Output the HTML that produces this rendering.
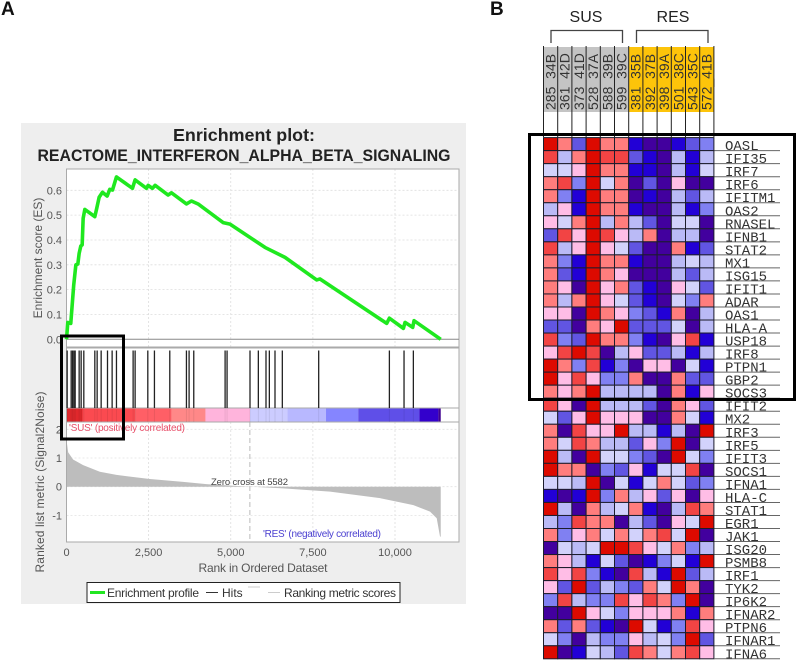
<!DOCTYPE html>
<html lang="en">
<head>
<meta charset="utf-8">
<title>Enrichment plot and heatmap</title>
<style>
html,body{margin:0;padding:0;background:#fff;width:798px;height:661px;overflow:hidden}
svg{display:block;font-family:"Liberation Sans",Arial,sans-serif}
</style>
</head>
<body>
<svg id="figure" width="798" height="661" viewBox="0 0 798 661" xmlns="http://www.w3.org/2000/svg">
  <text x="1" y="15" font-size="19" font-weight="bold" fill="#111">A</text>
  <text x="490" y="15" font-size="19" font-weight="bold" fill="#111">B</text>
  <rect x="21" y="123" width="445" height="481" fill="#eeeeee"/>
  <text x="244" y="141" text-anchor="middle" font-size="17.5" font-weight="bold" fill="#222" textLength="142" lengthAdjust="spacingAndGlyphs">Enrichment plot:</text>
  <text x="244" y="161" text-anchor="middle" font-size="17" font-weight="bold" fill="#222" textLength="413" lengthAdjust="spacingAndGlyphs">REACTOME_INTERFERON_ALPHA_BETA_SIGNALING</text>
  <rect x="66.5" y="169" width="393" height="373" fill="#fff"/>
  <g id="gsea"></g>
  <text transform="translate(42,258) rotate(-90)" text-anchor="middle" font-size="12" fill="#555">Enrichment score (ES)</text>
  <text transform="translate(44,482) rotate(-90)" text-anchor="middle" font-size="12" fill="#555" textLength="181">Ranked list metric (Signal2Noise)</text>
  <text x="263" y="572" text-anchor="middle" font-size="12" fill="#555" textLength="129">Rank in Ordered Dataset</text>
  <text x="211" y="485" font-size="9.5" fill="#444" textLength="77">Zero cross at 5582</text>
  <text x="69" y="431" font-size="10" fill="#e8506a" textLength="116">'SUS' (positively correlated)</text>
  <text x="263" y="537" font-size="10" fill="#4a3fd0" textLength="118">'RES' (negatively correlated)</text>
  <g>
    <rect x="87" y="582.5" width="313" height="20" fill="#fff" stroke="#222" stroke-width="1"/>
    <line x1="90" x2="105" y1="592.5" y2="592.5" stroke="#22e622" stroke-width="3"/>
    <text x="107" y="597" font-size="12" fill="#333" textLength="92">Enrichment profile</text>
    <line x1="206" x2="218" y1="592.5" y2="592.5" stroke="#333" stroke-width="1"/>
    <text x="222" y="597" font-size="12" fill="#333">Hits</text>
    <line x1="248" x2="260" y1="587" y2="587" stroke="#ccc" stroke-width="1"/>
    <line x1="268" x2="280" y1="592.5" y2="592.5" stroke="#ccc" stroke-width="1"/>
    <text x="284" y="597" font-size="12" fill="#333" textLength="112">Ranking metric scores</text>
  </g>
  <rect x="61.5" y="336" width="62" height="103" fill="none" stroke="#000" stroke-width="3"/>

  <g id="heat"></g>
  <text x="586" y="22" text-anchor="middle" font-size="16" fill="#222">SUS</text>
  <text x="673" y="22" text-anchor="middle" font-size="16" fill="#222">RES</text>
  <path d="M551 43V30.5H622.5V43" fill="none" stroke="#444" stroke-width="1.3"/>
  <path d="M636.5 43V30.5H708V43" fill="none" stroke="#444" stroke-width="1.3"/>
  <rect x="529.5" y="134.5" width="265" height="265" fill="none" stroke="#000" stroke-width="3"/>
</svg>
<script>
// ---- GSEA data ----
const esRanks = [0,40,130,220,285,345,385,436,477,507,558,862,913,994,1095,1237,1318,1400,1521,2008,2089,2434,2485,2617,2698,3093,3195,3651,3803,4006,4767,4977,5738,6043,6652,7616,7717,9747,9829,10255,10306,10539,10580,11392];
const esValues = [0,0.068,0.064,0.219,0.30,0.303,0.346,0.376,0.38,0.487,0.523,0.494,0.523,0.572,0.592,0.577,0.604,0.601,0.654,0.608,0.642,0.608,0.62,0.608,0.62,0.581,0.59,0.545,0.557,0.545,0.47,0.464,0.397,0.37,0.33,0.239,0.243,0.064,0.085,0.044,0.068,0.048,0.075,0];
const hitRanks = [20,142,183,223,264,385,446,527,862,933,1055,1248,1389,1521,2028,2089,2475,2677,3144,3651,3732,3874,4828,4888,5586,5840,6073,6175,6347,6570,7677,9829,10275,10559];
const metricRanks = [0,15,50,200,507,1014,1521,2535,3550,4260,5582,6600,8022,9545,10560,11067,11270,11371,11392];
const metricValues = [1.9,1.5,1.2,0.95,0.75,0.52,0.41,0.27,0.17,0.09,0,-0.06,-0.17,-0.4,-0.64,-0.87,-1.1,-1.74,-1.74];
const barRankEnds = [487,2109,3195,4230,5586,6722,7900,8880,10740,11320,11392];
const barLevels = ['#e0282c','#fb4a50','#ff5f66','#ff8888','#ffb4dc','#ccccff','#b8b8ff','#8585ff','#5f4fe8','#3300cc','#400090'];
const rankTicks = [0,2500,5000,7500,10000];
const rankTickLabels = ['0','2,500','5,000','7,500','10,000'];
const esTicks = [0,0.1,0.2,0.3,0.4,0.5,0.6];
const esTickLabels = ['0.0','0.1','0.2','0.3','0.4','0.5','0.6'];
const metricTicks = [2,1,0,-1];
const metricTickLabels = ['2','1','0','-1'];

// ---- Heatmap data ----
const genes = ['OASL','IFI35','IRF7','IRF6','IFITM1','OAS2','RNASEL','IFNB1','STAT2','MX1','ISG15','IFIT1','ADAR','OAS1','HLA-A','USP18','IRF8','PTPN1','GBP2','SOCS3','IFIT2','MX2','IRF3','IRF5','IFIT3','SOCS1','IFNA1','HLA-C','STAT1','EGR1','JAK1','ISG20','PSMB8','IRF1','TYK2','IP6K2','IFNAR2','PTPN6','IFNAR1','IFNA6'];
const samples = ['285_34B','361_42D','373_41D','528_37A','588_39B','599_39C','381_35B','392_37B','398_39A','501_38C','543_35C','572_41B'];
const sampleGroups = ['SUS','SUS','SUS','SUS','SUS','SUS','RES','RES','RES','RES','RES','RES'];
const heatValues = [
[0,2,7,0,2,2,8,9,9,8,7,6],
[1,5,2,0,1,1,7,8,9,5,8,5],
[4,4,3,0,2,2,8,8,9,5,8,4],
[2,1,6,0,4,2,9,7,9,3,9,9],
[2,6,8,0,2,2,9,8,9,5,7,5],
[5,3,8,0,2,2,8,9,9,5,8,6],
[3,4,2,0,5,2,5,7,9,4,4,9],
[7,1,3,0,1,3,5,2,9,5,5,9],
[1,5,3,0,3,4,7,9,9,2,8,7],
[2,6,8,0,2,2,8,9,9,5,4,5],
[2,7,8,0,2,3,9,9,9,5,7,5],
[2,3,9,0,3,2,7,8,9,3,4,7],
[2,5,2,0,3,4,7,8,9,4,6,2],
[3,3,9,0,2,3,6,7,8,2,9,5],
[7,7,9,2,3,0,7,7,7,4,9,5],
[1,6,7,0,2,2,6,8,9,3,1,8],
[3,1,0,1,9,5,3,7,7,5,8,5],
[0,2,6,1,8,6,9,3,3,9,4,8],
[0,3,1,3,6,6,2,9,9,2,7,7],
[2,3,2,0,5,5,5,5,9,2,8,3],
[1,3,9,0,5,5,5,7,9,2,3,7],
[4,7,3,0,3,3,3,9,9,2,4,8],
[2,9,1,3,3,0,5,5,8,5,9,0],
[2,4,1,2,5,5,7,3,6,0,9,4],
[0,5,9,0,4,4,6,7,9,0,4,6],
[0,2,2,9,6,7,3,8,4,4,1,9],
[4,4,5,0,9,4,8,4,2,4,7,6],
[8,9,8,0,6,2,5,3,7,3,9,3],
[0,5,9,2,5,4,2,8,9,5,1,2],
[5,6,1,2,2,9,5,7,9,3,4,0],
[2,6,3,2,4,2,4,2,1,4,0,9],
[9,4,5,4,0,0,1,3,4,2,6,5],
[2,3,5,8,4,7,9,8,6,4,8,0],
[1,3,1,6,8,9,1,5,8,0,7,5],
[3,7,0,7,5,6,7,2,4,0,2,9],
[6,1,5,6,6,1,3,1,2,6,0,9],
[9,9,0,3,4,6,3,3,3,2,8,2],
[2,7,2,7,8,9,0,4,8,6,1,3],
[4,6,9,5,6,6,3,5,4,6,0,7],
[0,9,8,4,5,7,1,2,4,2,1,3]
];
const heatPalette = ['#dd0a00','#f24444','#ff7d7d','#ffbde6','#d2d2fb','#babaf6','#8080f2','#6155e2','#2200d6','#42009e'];

// ---- Axis functions ----
const NS = 'http://www.w3.org/2000/svg';
const xScale = r => 66.5 + r * 0.03285;
const esY = v => 339.3 - v * 248.3;
const metricY = v => 486.7 - v * 28.7;

function mk(parent, tag, attrs, text) {
  const el = document.createElementNS(NS, tag);
  for (const k in attrs) el.setAttribute(k, attrs[k]);
  if (text !== undefined) el.textContent = text;
  parent.appendChild(el);
  return el;
}

const gsea = document.getElementById('gsea');

// Grid lines
rankTicks.slice(1).forEach(t => {
  const g = mk(gsea, 'line', {x1: xScale(t), x2: xScale(t), y1: 169, y2: 347, stroke: '#ddd', 'stroke-width': 0.8, 'stroke-dasharray': '2 2'});
  
  
  const g2 = mk(gsea, 'line', {x1: xScale(t), x2: xScale(t), y1: 422, y2: 542, stroke: '#ddd', 'stroke-width': 0.8, 'stroke-dasharray': '2 2'});
  
  
});
esTicks.slice(1).forEach((t, i) => {
  const g = mk(gsea, 'line', {x1: 66.5, x2: 459, y1: esY(t), y2: esY(t), stroke: '#ddd', 'stroke-width': 0.8, 'stroke-dasharray': '2 2'});
  
  
});
metricTicks.forEach(t => {
  const g = mk(gsea, 'line', {x1: 66.5, x2: 459, y1: metricY(t), y2: metricY(t), stroke: '#e2e2e2', 'stroke-width': 0.8, 'stroke-dasharray': '2 2'});
  
  
});

// Ranking metric area
let areaD = 'M' + xScale(metricRanks[0]) + ' ' + metricY(0);
metricRanks.forEach((r, i) => { areaD += 'L' + xScale(r).toFixed(2) + ' ' + metricY(metricValues[i]).toFixed(2); });
areaD += 'L' + xScale(metricRanks[metricRanks.length - 1]) + ' ' + metricY(0) + 'Z';
const area = mk(gsea, 'path', {d: areaD, fill: '#bdbdbd', stroke: 'none'});



// Zero-cross dashed line
const zeroLine = mk(gsea, 'line', {x1: xScale(5582), x2: xScale(5582), y1: 422, y2: 542, stroke: '#bbb', 'stroke-width': 1, 'stroke-dasharray': '5 3'});



// Colour bar
let barStart = 0;
barRankEnds.forEach((end, i) => {
  const seg = mk(gsea, 'rect', {x: xScale(barStart), y: 408, width: xScale(end) - xScale(barStart), height: 14, fill: barLevels[i]});
  
  
  barStart = end;
});

// Frames
[[169, 347], [348, 408], [408, 422], [422, 542]].forEach(pair => {
  const f = mk(gsea, 'rect', {x: 66.5, y: pair[0], width: 392.5, height: pair[1] - pair[0], fill: 'none', stroke: '#aaa', 'stroke-width': 1});
  
  
});
const esZero = mk(gsea, 'line', {x1: 66.5, x2: 459, y1: esY(0), y2: esY(0), stroke: '#888', 'stroke-width': 1});



// Hits
hitRanks.forEach(r => {
  const h = mk(gsea, 'line', {x1: xScale(r), x2: xScale(r), y1: 350.5, y2: 408, stroke: '#222', 'stroke-width': 1.3});
  
  
  const s = mk(gsea, 'line', {x1: xScale(r), x2: xScale(r), y1: 408, y2: 422, stroke: '#000', 'stroke-opacity': 0.08, 'stroke-width': 1});
  
  
});

// ES curve
const esLine = mk(gsea, 'polyline', {
  points: esRanks.map((r, i) => xScale(r).toFixed(2) + ',' + esY(esValues[i]).toFixed(2)).join(' '),
  fill: 'none', stroke: '#1fe81f', 'stroke-width': 3.6, 'stroke-linejoin': 'round'
});



// Tick labels
esTicks.forEach((t, i) => {
  const l = mk(gsea, 'text', {x: 62, y: esY(t) + 4, 'text-anchor': 'end', 'font-size': 11, fill: '#555'}, esTickLabels[i]);
  
  
});
metricTicks.forEach((t, i) => {
  const l = mk(gsea, 'text', {x: 62, y: metricY(t) + 4, 'text-anchor': 'end', 'font-size': 11, fill: '#555'}, metricTickLabels[i]);
  
  
});
rankTicks.forEach((t, i) => {
  const l = mk(gsea, 'text', {x: xScale(t), y: 556, 'text-anchor': 'middle', 'font-size': 11, fill: '#555'}, rankTickLabels[i]);
  
  
});

// ---- Heatmap ----
const heat = document.getElementById('heat');
const colX = c => 543.5 + c * 14.2;
const rowY = r => 137.6 + r * 13.03;

samples.forEach((s, c) => {
  const bg = mk(heat, 'rect', {x: colX(c), y: 47, width: 14.2, height: 65, fill: sampleGroups[c] === 'SUS' ? '#c4c4c4' : '#fdc40a'});
  
  
  const t = mk(heat, 'text', {transform: 'translate(' + (colX(c) + 12) + ',110) rotate(-90)', 'font-size': 14, fill: '#333'}, s);
  
  
});
for (let c = 0; c <= samples.length; c++) {
  const v = mk(heat, 'line', {x1: colX(c), x2: colX(c), y1: 46, y2: 137, stroke: '#222', 'stroke-width': 1});
  
  
}
genes.forEach((g, r) => {
  heatValues[r].forEach((val, c) => {
    const cell = mk(heat, 'rect', {x: colX(c), y: rowY(r), width: 14.2, height: 13.03, fill: heatPalette[val], stroke: '#1c1c2c', 'stroke-width': 1});
    
    
  });
  const u = mk(heat, 'line', {x1: colX(12), x2: 780, y1: rowY(r + 1), y2: rowY(r + 1), stroke: '#666', 'stroke-width': 1});
  
  
  const t = mk(heat, 'text', {x: 725, y: rowY(r) + 12.5, 'font-size': 14, fill: '#333', 'font-family': '"Liberation Mono",monospace'}, g);
  
  
});
</script>
</body>
</html>
